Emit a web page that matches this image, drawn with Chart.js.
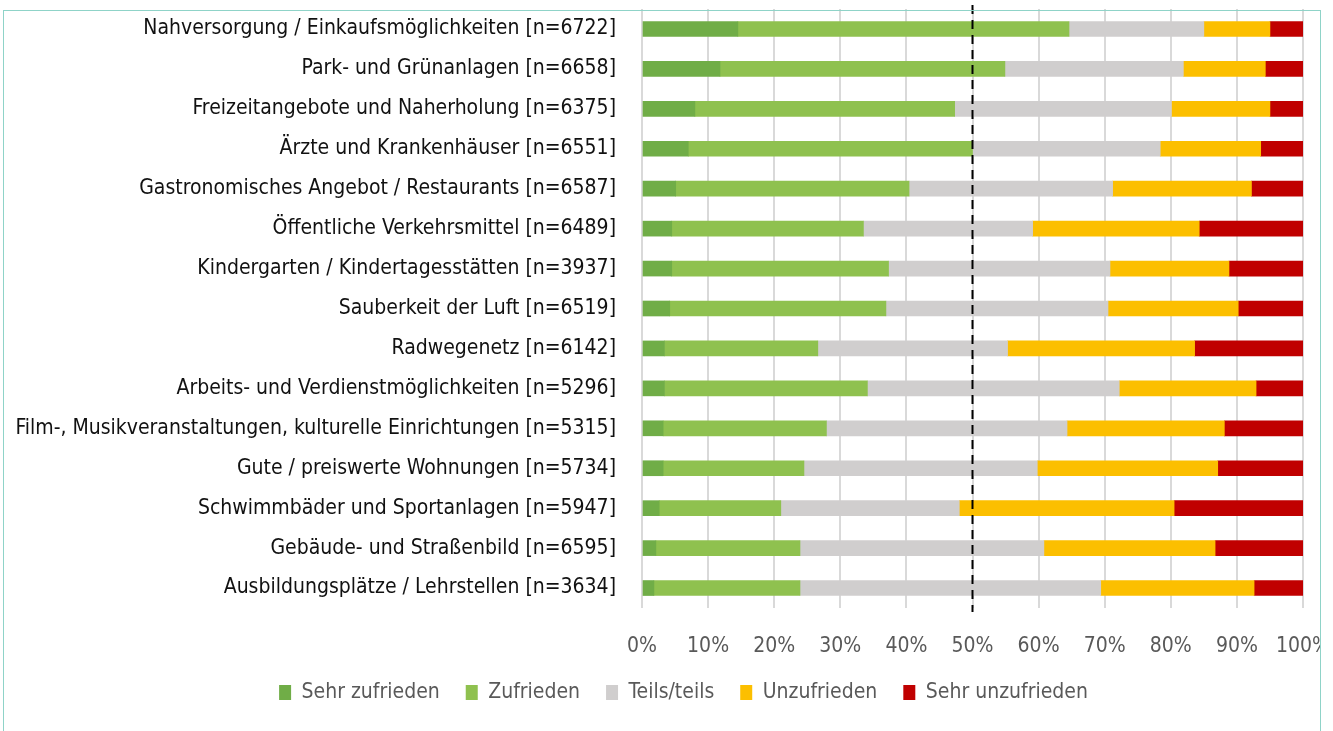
<!DOCTYPE html>
<html lang="de">
<head>
<meta charset="UTF-8">
<style>
    * { margin: 0; padding: 0; box-sizing: border-box; }
    body { background: #fff; width: 1333px; height: 731px; overflow: hidden; position: relative; }
    .frame {
        position: absolute; left: 3px; top: 10px; width: 1318px; height: 760px;
        border: 1px solid #8fd3c8; z-index: 2;
    }
    .cover { position: absolute; left: 1321px; top: 0; width: 12px; height: 731px; background: #fff; z-index: 1; }
    .chart-box { position: absolute; left: 0; top: 0; width: 1333px; height: 731px; }
</style>
</head>
<body>
<div class="chart-box"><canvas id="myChart"></canvas></div>
<div class="cover"></div>
<div class="frame"></div>

<script src="https://cdn.jsdelivr.net/npm/chart.js"></script>
<script>
    const categories = [
        "Nahversorgung / Einkaufsmöglichkeiten [n=6722]",
        "Park- und Grünanlagen [n=6658]",
        "Freizeitangebote und Naherholung [n=6375]",
        "Ärzte und Krankenhäuser [n=6551]",
        "Gastronomisches Angebot / Restaurants [n=6587]",
        "Öffentliche Verkehrsmittel [n=6489]",
        "Kindergarten / Kindertagesstätten [n=3937]",
        "Sauberkeit der Luft [n=6519]",
        "Radwegenetz [n=6142]",
        "Arbeits- und Verdienstmöglichkeiten [n=5296]",
        "Film-, Musikveranstaltungen, kulturelle Einrichtungen [n=5315]",
        "Gute / preiswerte Wohnungen [n=5734]",
        "Schwimmbäder und Sportanlagen [n=5947]",
        "Gebäude- und Straßenbild [n=6595]",
        "Ausbildungsplätze / Lehrstellen [n=3634]"
    ];
    const seriesNames = ["Sehr zufrieden", "Zufrieden", "Teils/teils", "Unzufrieden", "Sehr unzufrieden"];
    const sehrZufrieden   = [14.5, 11.8, 8.0, 7.0, 5.1, 4.5, 4.5, 4.2, 3.4, 3.4, 3.2, 3.2, 2.6, 2.1, 1.8];
    const zufrieden       = [50.1, 43.1, 39.3, 43.0, 35.3, 29.0, 32.8, 32.7, 23.2, 30.7, 24.7, 21.3, 18.4, 21.8, 22.1];
    const teilsTeils      = [20.4, 27.0, 32.8, 28.4, 30.8, 25.6, 33.5, 33.6, 28.7, 38.1, 36.4, 35.3, 27.0, 36.9, 45.5];
    const unzufrieden     = [10.0, 12.4, 14.9, 15.2, 21.0, 25.2, 18.0, 19.7, 28.3, 20.7, 23.8, 27.3, 32.5, 25.9, 23.2];
    const sehrUnzufrieden = [5.0, 5.7, 5.0, 6.4, 7.8, 15.7, 11.2, 9.8, 16.4, 7.1, 11.9, 12.9, 19.5, 13.3, 7.4];
    const xTicks = [0, 10, 20, 30, 40, 50, 60, 70, 80, 90, 100];
    const referenceLine = 50;

    const colors = ["#70ad47", "#8fc14f", "#d0cece", "#fcbf00", "#c00000"];
    const values = [sehrZufrieden, zufrieden, teilsTeils, unzufrieden, sehrUnzufrieden];

    const fontFamily = "'DejaVu Sans Condensed', 'Liberation Sans Narrow', sans-serif";

    // dashed line at 50 %
    const dashLine = {
        id: "dashLine",
        afterDatasetsDraw(chart) {
            const ctx = chart.ctx;
            const x = chart.scales.x.getPixelForValue(referenceLine);
            ctx.save();
            ctx.strokeStyle = "#000";
            ctx.lineWidth = 2;
            ctx.setLineDash([9, 6]);
            ctx.beginPath();
            ctx.moveTo(x, chart.chartArea.top - 4);
            ctx.lineTo(x, chart.chartArea.bottom + 4);
            ctx.stroke();
            ctx.restore();
        }
    };

    // legend sits a bit right of the canvas centre
    const legendShift = {
        id: "legendShift",
        afterLayout(chart) {
            chart.legend.left += 32;
            chart.legend.right += 32;
        }
    };

    new Chart("myChart", {
        type: "bar",
        data: {
            labels: categories,
            datasets: seriesNames.map((name, i) => ({
                label: name,
                data: values[i],
                backgroundColor: colors[i],
                borderWidth: 0,
                barThickness: 15
            }))
        },
        options: {
            indexAxis: "y",
            responsive: true,
            maintainAspectRatio: false,
            animation: false,
            layout: { padding: { top: 9, right: 30, left: 0, bottom: 18 } },
            plugins: {
                tooltip: { enabled: false },
                legend: {
                    position: "bottom",
                    labels: {
                        color: "#595959",
                        font: { family: fontFamily, size: 21 },
                        boxWidth: 12,
                        boxHeight: 15,
                        padding: 26
                    }
                }
            },
            scales: {
                x: {
                    stacked: true,
                    min: 0,
                    max: 100,
                    afterBuildTicks: (s) => { s.ticks = xTicks.map(v => ({ value: v })); },
                    afterFit: (s) => { s.height = 48; s.paddingLeft = 0; s.paddingRight = 0; },
                    border: { display: false },
                    grid: { color: "#d9d9d9", lineWidth: 2, drawTicks: false },
                    ticks: {
                        color: "#595959",
                        font: { family: fontFamily, size: 21 },
                        padding: 26,
                        callback: (v) => v + "%"
                    }
                },
                y: {
                    stacked: true,
                    afterFit: (s) => { s.width = 642; s.paddingTop = 0; s.paddingBottom = 0; },
                    border: { display: false },
                    grid: { display: false, drawTicks: false },
                    ticks: {
                        color: "#111",
                        font: { family: fontFamily, size: 21 },
                        padding: 26,
                        autoSkip: false
                    }
                }
            }
        },
        plugins: [dashLine, legendShift]
    });
</script>
</body>
</html>
